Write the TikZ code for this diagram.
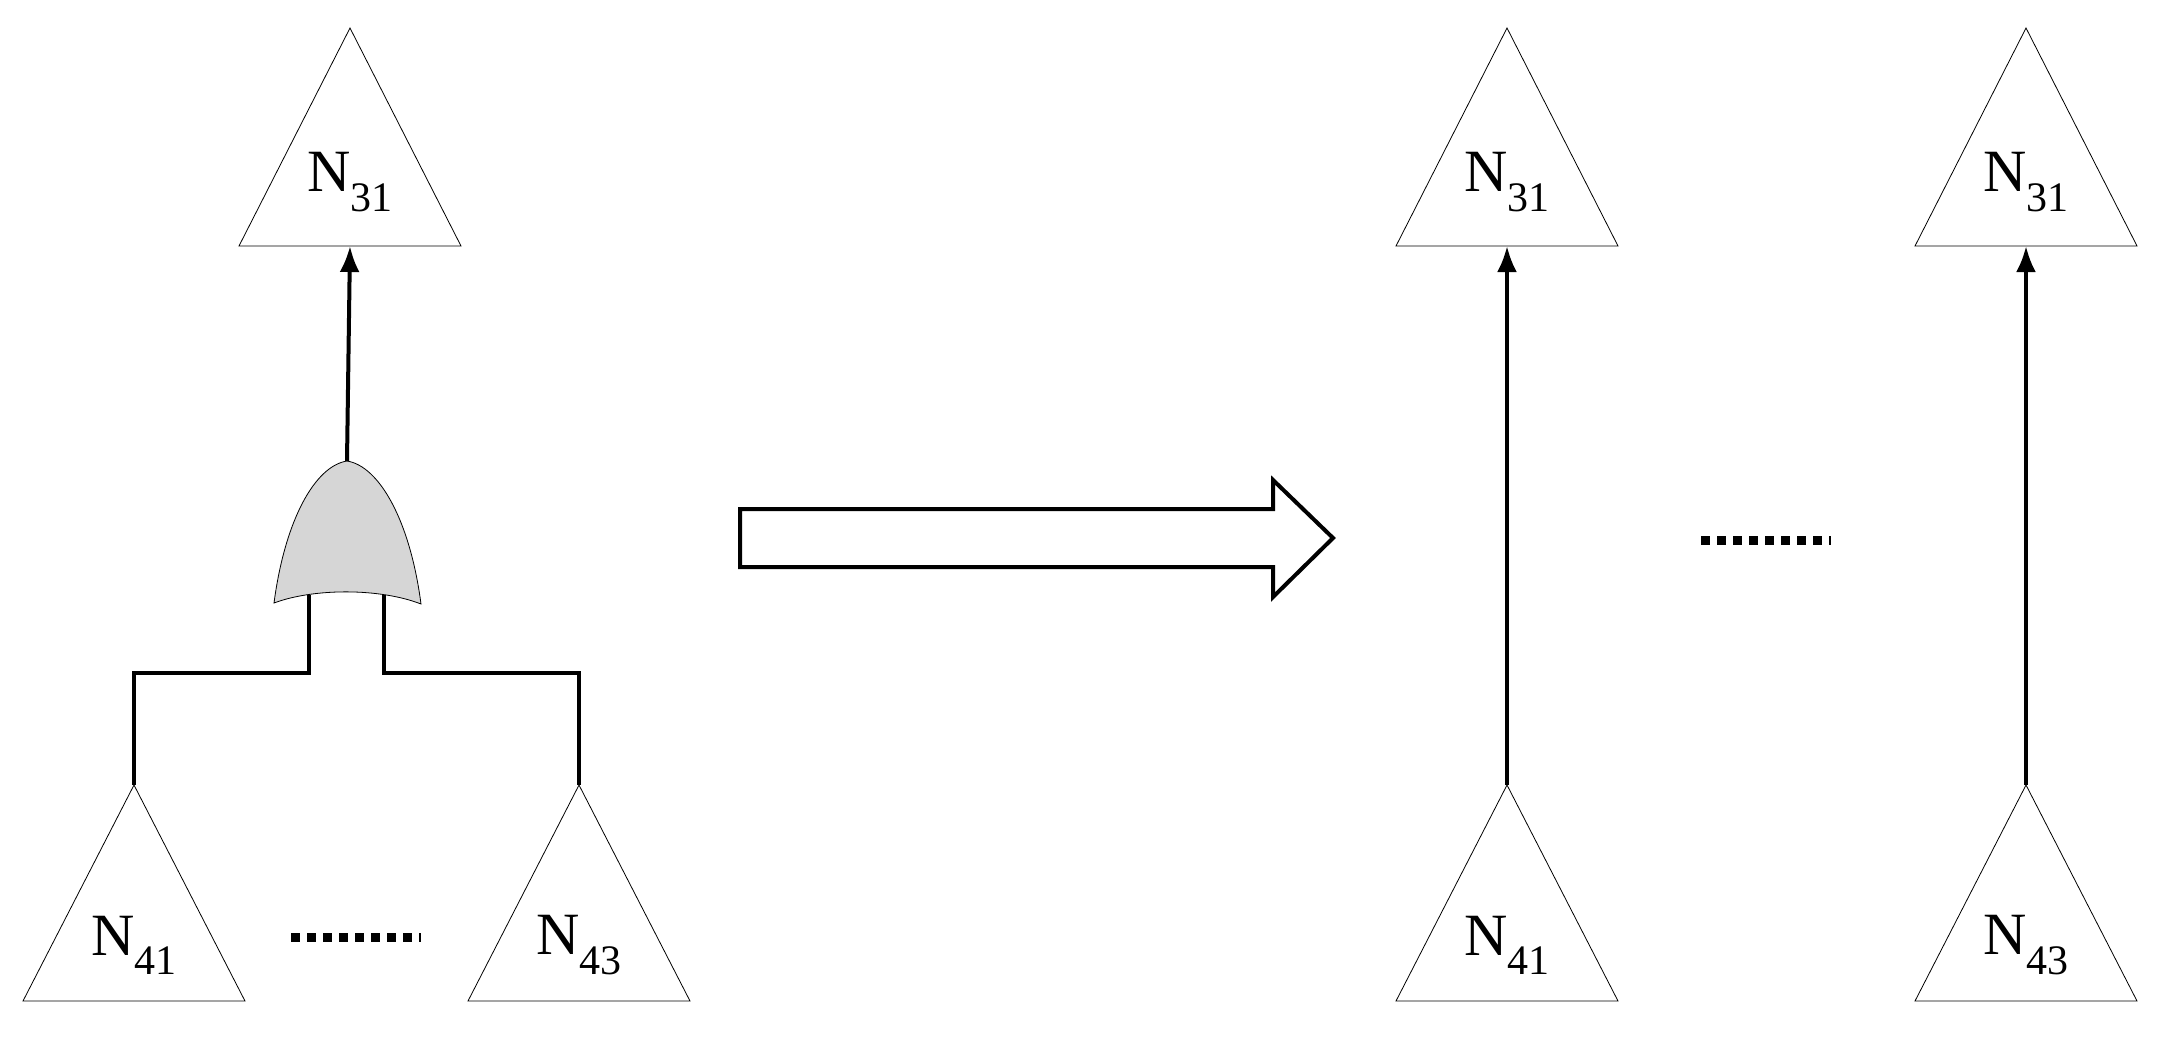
\documentclass[tikz,border=0pt]{standalone}
\usepackage{fontspec}
\setmainfont{Liberation Serif}
\begin{document}
\begin{tikzpicture}[x=1pt,y=-1pt,
  tri/.style={draw,line width=0.8pt},
  lbl/.style={font=\fontsize{60}{60}\selectfont,inner sep=0pt},
  wire/.style={line width=4pt},
  arr/.style={line width=4pt,-{Latex[length=26pt,width=20pt]}}]
\useasboundingbox (0,0) rectangle (2159,1044);
\usetikzlibrary{arrows.meta}
% triangles: top (apex y 28, base 246), bottom (apex 785, base 1001), half width 111
\foreach \n/\x in {A/350,B/1507,C/2026}{
  \coordinate (\n apex) at (\x,28);
  \coordinate (\n base) at (\x,246);
  \draw[tri] (\x,28) -- (\x+111,246) -- (\x-111,246) -- cycle;
  \node[lbl] (\n lab) at (\x,182) {N\textsubscript{\fontsize{42}{42}\selectfont 31}};
}
\foreach \n/\x/\s in {D/134/41,E/579/43,F/1507/41,G/2026/43}{
  \coordinate (\n apex) at (\x,785);
  \draw[tri] (\x,785) -- (\x+111,1001) -- (\x-111,1001) -- cycle;
  \node[lbl] (\n lab) at (\x,945) {N\textsubscript{\fontsize{42}{42}\selectfont \s}};
}
% OR gate
\coordinate (gtop) at (347,461);
\coordinate (gin1) at (309,595);
\coordinate (gin2) at (384,595);
\draw[fill={rgb,255:red,214;green,214;blue,214},line width=0.8pt]
  (274,603) .. controls (285,520) and (315,466) .. (347,461)
  .. controls (379,466) and (410,520) .. (421,604)
  .. controls (380,588) and (314,588) .. (274,603) -- cycle;
\draw[arr] (gtop) -- (Abase);
\draw[wire,line join=miter] (Dapex) |- (309,673) -- (gin1);
\draw[wire,line join=miter] (Eapex) |- (384,673) -- (gin2);
\draw[arr] (Fapex) -- (Bbase);
\draw[arr] (Gapex) -- (Cbase);
% dots
\node[inner sep=0pt] (dots1) at (355,937) {};
\draw[line width=9pt,dash pattern=on 9pt off 7pt] (291,937) -- (421,937);
\node[inner sep=0pt] (dots2) at (1765,540) {};
\draw[line width=9pt,dash pattern=on 9pt off 7pt] (1701,540) -- (1831,540);
% big arrow
\draw[line width=4pt,line join=miter] (740,509) -- (1273,509) -- (1273,480) -- (1333,538)
  -- (1273,597) -- (1273,567) -- (740,567) -- cycle;
\end{tikzpicture}
\end{document}
